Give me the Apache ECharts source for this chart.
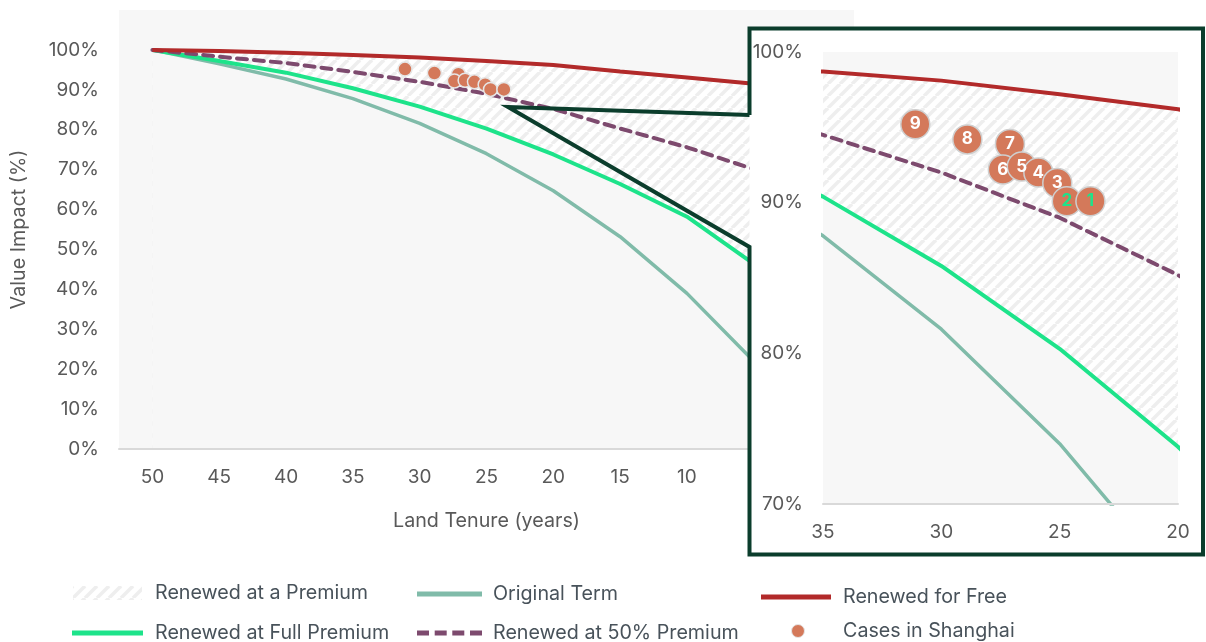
<!DOCTYPE html>
<html>
<head>
<meta charset="utf-8">
<script src="https://cdn.jsdelivr.net/npm/echarts@6/dist/echarts.min.js"></script>
<style>
html,body{margin:0;padding:0;background:#fff;}
#chart{width:1206px;height:642px;}
</style>
</head>
<body>
<div id="chart"></div>
<script>
// ---- data ----
const years = [50, 45, 40, 35, 30, 25, 20, 15, 10, 5];
const renewedForFree = [100, 99.7, 99.3, 98.7, 98.1, 97.2, 96.2, 94.6, 93.1, 91.5];
const renewedHalfPremium = [100, 98.3, 96.7, 94.5, 92.0, 89.0, 85.2, 80.3, 75.6, 70.1];
const renewedFullPremium = [100, 97.2, 94.3, 90.4, 85.8, 80.3, 73.8, 66.4, 58.2, 46.4];
const originalTerm = [100, 96.5, 92.7, 87.8, 81.6, 74.0, 64.7, 53.2, 39.0, 22.0];
const caseLabels = ['1', '2', '3', '4', '5', '6', '7', '8', '9'];
const caseYears = [23.7, 24.7, 25.1, 25.9, 26.6, 27.4, 27.1, 28.9, 31.1];
const caseValues = [90.1, 90.1, 91.3, 92.0, 92.4, 92.2, 93.9, 94.2, 95.2];
const mainYTicks = [0, 10, 20, 30, 40, 50, 60, 70, 80, 90, 100];

// ---- styles ----
const FONT = 'Inter';
const FS = 19.7;
const C_RED = '#b22a2a', C_GREEN = '#1de38a', C_TEAL = '#80bba9', C_PURPLE = '#7d4a6e', C_CASE = '#d4795a';
const C_BOX = '#0b3d2c', C_LABEL = '#595959', C_LEGEND = '#48525a', C_BG = '#f7f7f7';

// hatch pattern
const pat = document.createElement('canvas');
pat.width = 12; pat.height = 12;
(function(){
  const g = pat.getContext('2d');
  g.fillStyle = '#ffffff'; g.fillRect(0,0,12,12);
  g.strokeStyle = '#eeeeee'; g.lineWidth = 3.5;
  [-12, 0, 12].forEach(function(o){
    g.beginPath(); g.moveTo(o, 12); g.lineTo(o + 12, 0); g.stroke();
  });
})();
const hatch = {image: pat, repeat: 'repeat'};

function pairs(arr){ return years.map(function(y,i){ return [y, arr[i]]; }); }

function caseData(big){
  const out = [];
  for (let i = caseLabels.length - 1; i >= 0; i--) {
    const item = {name: caseLabels[i], value: [caseYears[i], caseValues[i]]};
    if (big) item.label = {color: (caseLabels[i] === '1' || caseLabels[i] === '2') ? C_GREEN : '#ffffff'};
    out.push(item);
  }
  return out;
}

function lineSeries(name, data, color, width, xi, z, dashed){
  return {
    name: name, type: 'line', xAxisIndex: xi, yAxisIndex: xi, data: data,
    symbol: 'none', z: z, silent: true,
    lineStyle: {color: color, width: width, type: dashed ? [10, 7] : 'solid', cap: dashed ? 'round' : 'butt'},
    itemStyle: {color: color}
  };
}

function seriesFor(xi, zb){
  return [
    // hatched band: area under "renewed for free" with hatch, then covered below "full premium"
    {name: 'Renewed at a Premium', type: 'line', xAxisIndex: xi, yAxisIndex: xi, data: pairs(renewedForFree),
     symbol: 'none', lineStyle: {width: 0, opacity: 0}, areaStyle: {color: hatch, opacity: 1},
     itemStyle: {color: '#eeeeee'}, z: zb, silent: true},
    {name: 'cover' + xi, type: 'line', xAxisIndex: xi, yAxisIndex: xi, data: pairs(renewedFullPremium),
     symbol: 'none', lineStyle: {width: 0, opacity: 0}, areaStyle: {color: C_BG, opacity: 1}, z: zb, silent: true},
    lineSeries('Original Term', pairs(originalTerm), C_TEAL, 3.5, xi, zb + 1),
    lineSeries('Renewed at Full Premium', pairs(renewedFullPremium), C_GREEN, 4, xi, zb + 1),
    lineSeries('Renewed at 50% Premium', pairs(renewedHalfPremium), C_PURPLE, 4, xi, zb + 1, true),
    lineSeries('Renewed for Free', pairs(renewedForFree), C_RED, 4, xi, zb + 1),
    {name: 'Cases in Shanghai', type: 'scatter', xAxisIndex: xi, yAxisIndex: xi, data: caseData(xi === 1),
     symbolSize: xi === 1 ? 29 : 14, z: zb + 3, silent: true,
     itemStyle: {color: C_CASE, borderColor: xi === 1 ? '#cfcfcf' : '#e6e6e6', borderWidth: 1.5, opacity: 1},
     label: xi === 1 ? {show: true, position: 'inside', formatter: '{b}', fontFamily: FONT, fontWeight: 'bold', fontSize: 17, color: '#fff'} : {show: false}}
  ];
}

const axisLabelStyle = {fontFamily: FONT, fontSize: 19, color: C_LABEL};

function legendItem(item, left, centerY, w, h, textPad){
  return {
    left: left, top: centerY - 10, padding: 0, itemWidth: w, itemHeight: h, selectedMode: false,
    textStyle: {fontFamily: FONT, fontSize: FS, color: C_LEGEND, lineHeight: 20, padding: [0, 0, 0, textPad]},
    data: [item]
  };
}

const dashIcon = 'path://M0,0H12V5H0Z M17.7,0H29.7V5H17.7Z M35.3,0H47.3V5H35.3Z M53,0H65V5H53Z';

const BL = 749.5, BT = 28.5, BR = 1203, BB = 554.5;

const option = {
  animation: false,
  backgroundColor: '#ffffff',
  grid: [
    {left: 119, top: 10, width: 735, height: 439, show: true, backgroundColor: C_BG, borderWidth: 0, z: 0},
    {left: 823, top: 52, width: 355, height: 452, show: true, backgroundColor: C_BG, borderWidth: 0, z: 60}
  ],
  xAxis: [
    {type: 'value', gridIndex: 0, inverse: true, min: -2.5, max: 52.5, interval: 2.5, z: 10,
     name: 'Land Tenure (years)', nameLocation: 'middle', nameGap: 62,
     nameTextStyle: {fontFamily: FONT, fontSize: FS, color: C_LABEL},
     axisLine: {show: true, lineStyle: {color: '#d9d9d9', width: 2}},
     axisTick: {show: false}, splitLine: {show: false},
     axisLabel: Object.assign({margin: 19, formatter: function(v){ return (v >= 0 && Math.abs(v % 5) < 1e-6) ? String(v) : ''; }}, axisLabelStyle)},
    {type: 'value', gridIndex: 1, inverse: true, min: 20, max: 35, interval: 5, z: 75,
     axisLine: {show: true, lineStyle: {color: '#d9d9d9', width: 2}},
     axisTick: {show: false}, splitLine: {show: false},
     axisLabel: Object.assign({margin: 19}, axisLabelStyle)}
  ],
  yAxis: [
    {type: 'value', gridIndex: 0, min: 0, max: 110, interval: 10, z: 10,
     name: 'Value Impact (%)', nameLocation: 'middle', nameGap: 90,
     nameTextStyle: {fontFamily: FONT, fontSize: FS, color: C_LABEL},
     axisLine: {show: false}, axisTick: {show: false}, splitLine: {show: false},
     axisLabel: Object.assign({margin: 20, formatter: function(v){ return mainYTicks.indexOf(v) >= 0 ? v + '%' : ''; }}, axisLabelStyle)},
    {type: 'value', gridIndex: 1, min: 70, max: 100, interval: 10, z: 61,
     axisLine: {show: false}, axisTick: {show: false}, splitLine: {show: false},
     axisLabel: Object.assign({margin: 20, formatter: '{value}%'}, axisLabelStyle)}
  ],
  legend: [
    legendItem({name: 'Renewed at a Premium', icon: 'rect', itemStyle: {color: hatch}}, 73, 593, 69, 14, 8),
    legendItem({name: 'Renewed at Full Premium', icon: 'rect', itemStyle: {color: C_GREEN}}, 72, 633, 71, 5, 7),
    legendItem({name: 'Original Term', icon: 'rect', itemStyle: {color: C_TEAL}}, 417, 594, 65, 5, 6),
    legendItem({name: 'Renewed at 50% Premium', icon: dashIcon, itemStyle: {color: C_PURPLE}}, 417, 633, 65, 5, 6),
    legendItem({name: 'Renewed for Free', icon: 'rect', itemStyle: {color: C_RED}}, 761, 597, 70, 5, 7),
    legendItem({name: 'Cases in Shanghai', icon: 'circle', itemStyle: {color: C_CASE, borderColor: '#e6e6e6', borderWidth: 1}}, 791, 631, 70, 13, 5)
  ],
  graphic: [
    {type: 'rect', z: 50, silent: true, shape: {x: BL, y: BT, width: BR - BL, height: BB - BT}, style: {fill: '#ffffff'}},
    {type: 'polyline', z: 90, silent: true,
     shape: {points: [[BL, 115], [BL, BT], [BR, BT], [BR, BB], [BL, BB], [BL, 247], [508, 107], [BL, 115]]},
     style: {stroke: C_BOX, lineWidth: 4, fill: null, lineJoin: 'miter'}}
  ],
  series: seriesFor(0, 2).concat(seriesFor(1, 70))
};

const chart = echarts.init(document.getElementById('chart'), null, {renderer: 'canvas'});
chart.setOption(option);
</script>
</body>
</html>
